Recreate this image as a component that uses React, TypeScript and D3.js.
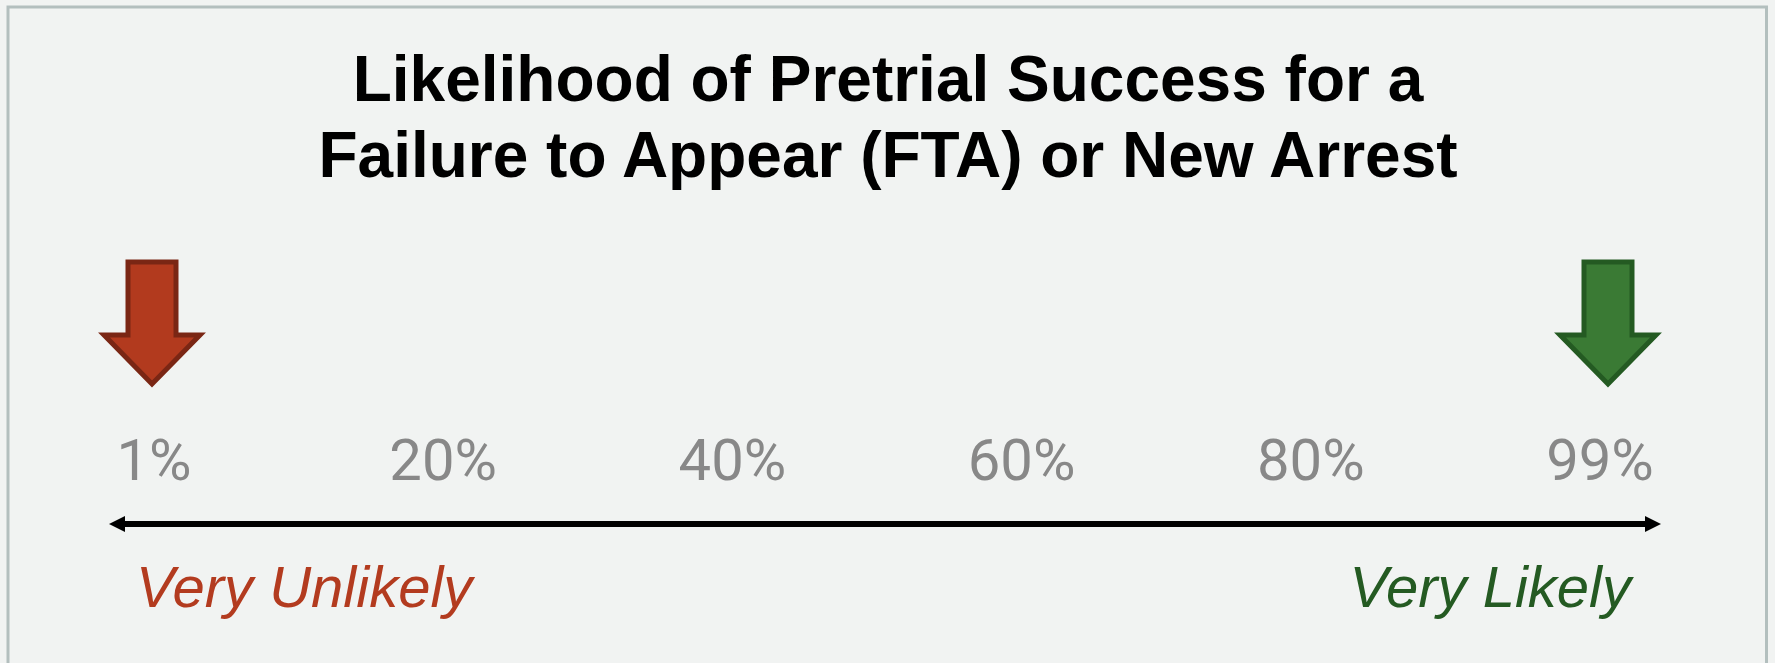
import React from "react";
import * as d3 from "d3";

const titleLines = ["Likelihood of Pretrial Success for a", "Failure to Appear (FTA) or New Arrest"];
const tickLabels = ["1%", "20%", "40%", "60%", "80%", "99%"];
const markers = [
  { at: "1%", fill: "#b23a1e", stroke: "#7a2614" },
  { at: "99%", fill: "#3a7a34", stroke: "#245a22" },
];
const endLabels = [
  { text: "Very Unlikely", side: "left", color: "#b33b1f" },
  { text: "Very Likely", side: "right", color: "#245a22" },
];

const W = 1775;
const H = 663;

export default function App() {
  const x = d3.scalePoint<string>().domain(tickLabels).range([154, 1600]);
  const axisY = 524;
  const axisX0 = (x(tickLabels[0]) as number) - 45;
  const axisX1 = (x(tickLabels[tickLabels.length - 1]) as number) + 61;

  const arrowPath = (cx: number) => {
    const top = 262, shoulder = 335, tip = 384, sh = 24, hh = 48;
    return `M${cx - sh},${top}H${cx + sh}V${shoulder}H${cx + hh}L${cx},${tip}L${cx - hh},${shoulder}H${cx - sh}Z`;
  };
  const markerOffset: Record<string, number> = { "1%": -2, "99%": 8 };

  return (
    <svg
      width={W}
      height={H}
      style={{ position: "absolute", left: 0, top: 0, display: "block" }}
      xmlns="http://www.w3.org/2000/svg"
    >
      <rect x={0} y={0} width={W} height={H} fill="#f1f3f2" />
      <rect x={8} y={7} width={1758.5} height={720} fill="#f1f3f2" stroke="#b3bfbe" strokeWidth={3} />
      {titleLines.map((t, i) => (
        <text
          key={t}
          x={888}
          y={101 + i * 76}
          textAnchor="middle"
          fontFamily="'Liberation Sans', Arial, sans-serif"
          fontWeight="bold"
          fontSize={64}
          fill="#000"
        >
          {t}
        </text>
      ))}
      {markers.map((m) => (
        <path
          key={m.at}
          d={arrowPath((x(m.at) as number) + markerOffset[m.at])}
          fill={m.fill}
          stroke={m.stroke}
          strokeWidth={5}
          strokeLinejoin="miter"
          strokeMiterlimit={3}
        />
      ))}
      {tickLabels.map((t) => (
        <text
          key={t}
          x={x(t) as number}
          y={480}
          textAnchor="middle"
          fontFamily="Roboto, 'Open Sans', sans-serif"
          fontSize={58}
          fill="#888888"
        >
          {t}
        </text>
      ))}
      <line x1={axisX0 + 12} x2={axisX1 - 12} y1={axisY} y2={axisY} stroke="#000" strokeWidth={6} />
      <path d={`M${axisX0},${axisY}L${axisX0 + 16},${axisY - 8}L${axisX0 + 16},${axisY + 8}Z`} fill="#000" />
      <path d={`M${axisX1},${axisY}L${axisX1 - 16},${axisY - 8}L${axisX1 - 16},${axisY + 8}Z`} fill="#000" />
      {endLabels.map((l) => (
        <text
          key={l.text}
          x={l.side === "left" ? 136 : 1631}
          y={607}
          textAnchor={l.side === "left" ? "start" : "end"}
          fontFamily="'Liberation Sans', Arial, sans-serif"
          fontStyle="italic"
          fontSize={58}
          fill={l.color}
        >
          {l.text}
        </text>
      ))}
    </svg>
  );
}
